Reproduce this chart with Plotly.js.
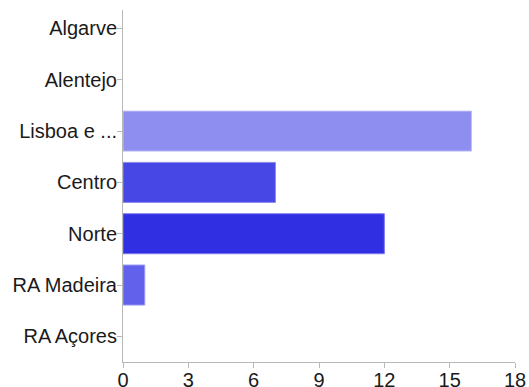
<!DOCTYPE html>
<html>
<head>
<meta charset="utf-8">
<script src="https://cdn.plot.ly/plotly-3.0.1.min.js"></script>
<style>html,body{margin:0;padding:0;background:#fff;}#chart{width:529px;height:387px;}</style>
</head>
<body>
<div id="chart"></div>
<script>
var categories = ["RA Açores", "RA Madeira", "Norte", "Centro", "Lisboa e ...", "Alentejo", "Algarve"];
var values = [0, 1, 12, 7, 16, 0, 0];
var barColors = ["#8e8ef0", "#6161ec", "#3030e2", "#4747e6", "#8e8ef0", "#8e8ef0", "#8e8ef0"];
var edgeColors = ["rgba(0,0,0,0)", "#9a9af3", "#7a7aee", "#8a8af0", "#c0c0f6", "rgba(0,0,0,0)", "rgba(0,0,0,0)"];
var xTicks = [0, 3, 6, 9, 12, 15, 18];

Plotly.newPlot("chart", [{
  type: "bar",
  orientation: "h",
  y: categories,
  x: values,
  width: 0.78,
  marker: {color: barColors, line: {color: edgeColors, width: 1}},
  hoverinfo: "none"
}], {
  width: 529, height: 387,
  margin: {l: 123, r: 14, t: 10, b: 25, pad: 0},
  paper_bgcolor: "#fff", plot_bgcolor: "#fff",
  showlegend: false,
  font: {family: "Liberation Sans, Arial, sans-serif", size: 20, color: "#1a1a1a"},
  xaxis: {
    range: [0, 18], tickvals: xTicks, ticktext: xTicks.map(String),
    showgrid: false, zeroline: false, showline: true, linecolor: "#b8b8b8", linewidth: 1,
    ticks: "outside", ticklen: 5, tickcolor: "#b8b8b8", tickfont: {size: 20},
    ticklabelstandoff: -5
  },
  yaxis: {
    type: "category", categoryorder: "array", categoryarray: categories,
    range: [-0.5, 6.36],
    showgrid: false, zeroline: false, showline: true, linecolor: "#b8b8b8", linewidth: 1,
    ticks: "outside", ticklen: 5, tickcolor: "#b8b8b8", tickfont: {size: 20},
    ticklabelstandoff: -4
  }
}, {staticPlot: true, displayModeBar: false});
</script>
</body>
</html>
